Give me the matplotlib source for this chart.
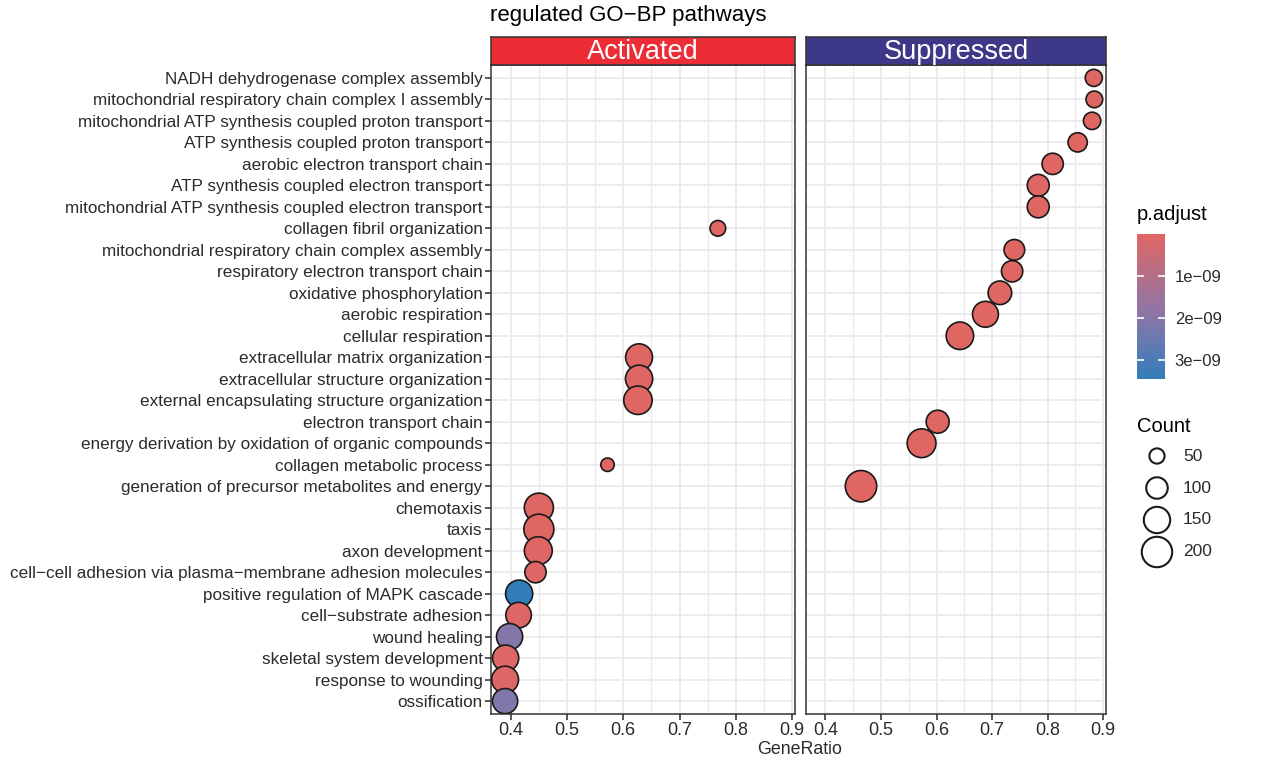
import matplotlib

matplotlib.use("Agg")
import matplotlib.pyplot as plt
import numpy as np
from matplotlib.cm import ScalarMappable
from matplotlib.colors import LinearSegmentedColormap, Normalize
from matplotlib.ticker import MultipleLocator

plt.rcParams["font.family"] = ["Liberation Sans", "DejaVu Sans"]

# pathways, listed top to bottom
terms = [
    "NADH dehydrogenase complex assembly",
    "mitochondrial respiratory chain complex I assembly",
    "mitochondrial ATP synthesis coupled proton transport",
    "ATP synthesis coupled proton transport",
    "aerobic electron transport chain",
    "ATP synthesis coupled electron transport",
    "mitochondrial ATP synthesis coupled electron transport",
    "collagen fibril organization",
    "mitochondrial respiratory chain complex assembly",
    "respiratory electron transport chain",
    "oxidative phosphorylation",
    "aerobic respiration",
    "cellular respiration",
    "extracellular matrix organization",
    "extracellular structure organization",
    "external encapsulating structure organization",
    "electron transport chain",
    "energy derivation by oxidation of organic compounds",
    "collagen metabolic process",
    "generation of precursor metabolites and energy",
    "chemotaxis",
    "taxis",
    "axon development",
    "cell−cell adhesion via plasma−membrane adhesion molecules",
    "positive regulation of MAPK cascade",
    "cell−substrate adhesion",
    "wound healing",
    "skeletal system development",
    "response to wounding",
    "ossification",
]
A, S = "Activated", "Suppressed"
groups = [S, S, S, S, S, S, S, A, S, S, S, S, S, A, A,
          A, S, S, A, S, A, A, A, A, A, A, A, A, A, A]
gene_ratio = [0.883, 0.884, 0.880, 0.854, 0.809, 0.783, 0.783, 0.768, 0.740, 0.736,
              0.714, 0.688, 0.642, 0.628, 0.628, 0.626, 0.602, 0.573, 0.572, 0.464,
              0.450, 0.450, 0.449, 0.444, 0.415, 0.414, 0.398, 0.391, 0.390, 0.390]
counts = [63, 60, 65, 80, 98, 104, 104, 53, 92, 98,
          120, 145, 163, 156, 160, 175, 114, 179, 39, 213,
          183, 195, 168, 98, 159, 141, 148, 148, 156, 137]
p_adjust = [2e-14, 2e-14, 3e-14, 5e-14, 1e-13, 2e-13, 2e-13, 4e-12, 3e-13, 3e-13,
            4e-13, 5e-13, 6e-13, 8e-12, 8e-12, 9e-12, 7e-13, 8e-13, 1e-11, 1e-12,
            2e-11, 2e-11, 3e-11, 5e-11, 3.45e-9, 6e-11, 2.0e-9, 7e-11, 8e-11, 2.1e-9]

panels = [A, S]
strip_colors = ["#EC2D35", "#3D3888"]
x_ticks = [0.4, 0.5, 0.6, 0.7, 0.8, 0.9]
size_breaks = [50, 100, 150, 200]
cbar_ticks = [1e-9, 2e-9, 3e-9]
cbar_labels = ["1e−09", "2e−09", "3e−09"]

W, H = 1280, 771


def box(x0, y0, x1, y1):
    return [x0 / W, 1 - y1 / H, (x1 - x0) / W, (y1 - y0) / H]


cmap = LinearSegmentedColormap.from_list(
    "padj", [(0.0, "#e06663"), (0.55, "#8C76A8"), (1.0, "#327eba")])
norm = Normalize(vmin=min(p_adjust), vmax=max(p_adjust))
size_k = 2.4
text_col = "#2b2b2b"

fig = plt.figure(figsize=(12.8, 7.71), dpi=100)

groups_a = np.array(groups)
gr_a = np.array(gene_ratio)
cnt_a = np.array(counts)
p_a = np.array(p_adjust)
rows = np.arange(len(terms))

panel_x = [(491, 795), (806, 1106)]
for i, (name, col, (x0, x1)) in enumerate(zip(panels, strip_colors, panel_x)):
    ax = fig.add_axes(box(x0, 65, x1, 714))
    m = groups_a == name
    ax.scatter(gr_a[m], rows[m], s=cnt_a[m] * size_k, c=p_a[m], cmap=cmap, norm=norm,
               edgecolors="#1a1a1a", linewidths=1.2, zorder=3)
    ax.set_xlim(0.365, 0.905)
    ax.set_ylim(len(terms) - 0.4, -0.6)
    ax.set_xticks(x_ticks)
    ax.set_xticklabels([f"{t:.1f}" for t in x_ticks])
    ax.xaxis.set_minor_locator(MultipleLocator(0.05))
    ax.set_yticks(rows)
    ax.set_yticklabels(terms if i == 0 else [])
    ax.grid(which="major", color="#EBEBEB", linewidth=1.3, zorder=0)
    ax.grid(which="minor", axis="x", color="#EBEBEB", linewidth=1.0, zorder=0)
    ax.set_axisbelow(True)
    ax.tick_params(which="major", length=4, width=1.1, color=text_col,
                   labelsize=12.3, labelcolor=text_col, pad=2)
    ax.tick_params(axis="x", labelsize=13, pad=2)
    ax.tick_params(which="minor", length=0)
    if i == 1:
        ax.tick_params(axis="y", length=0)
    for sp in ax.spines.values():
        sp.set_color("#333333")
        sp.set_linewidth(1.1)

    st = fig.add_axes(box(x0, 37, x1, 65))
    st.set_facecolor(col)
    st.set_xticks([])
    st.set_yticks([])
    for sp in st.spines.values():
        sp.set_color("#333333")
        sp.set_linewidth(1.1)
    st.text(0.5, 0.45, name, color="white", fontsize=19.5, ha="center", va="center",
            transform=st.transAxes)

fig.text(490 / W, 1 - 16 / H, "regulated GO−BP pathways", fontsize=16,
         ha="left", va="center", color="black")
fig.text(800 / W, 1 - 750 / H, "GeneRatio", fontsize=12.8, ha="center", va="center",
         color=text_col)

# colour bar
cax = fig.add_axes(box(1137, 234, 1165, 379))
cb = fig.colorbar(ScalarMappable(norm=norm, cmap=cmap), cax=cax)
cax.invert_yaxis()
cb.set_ticks(cbar_ticks)
cb.set_ticklabels(cbar_labels)
cb.outline.set_visible(False)
cax.tick_params(direction="in", color="white", length=5, width=1.2, left=True,
                right=True, labelsize=12, labelcolor=text_col, pad=7)
fig.text(1137 / W, 1 - 215 / H, "p.adjust", fontsize=14.5, ha="left", va="center")

# size legend
fig.text(1137 / W, 1 - 427 / H, "Count", fontsize=14.5, ha="left", va="center")
lax = fig.add_axes(box(1137, 440, 1240, 568))
lax.set_xlim(0, 1)
lax.set_ylim(len(size_breaks) - 0.5, -0.5)
lax.axis("off")
ly = np.arange(len(size_breaks))
lax.scatter([0.194] * len(size_breaks), ly, s=np.array(size_breaks) * size_k,
            facecolors="white", edgecolors="#1a1a1a", linewidths=1.5, clip_on=False)
for y, b in zip(ly, size_breaks):
    lax.text(0.447, y, str(b), fontsize=12.5, ha="left", va="center", color=text_col)

fig.savefig("out.png", dpi=100)
